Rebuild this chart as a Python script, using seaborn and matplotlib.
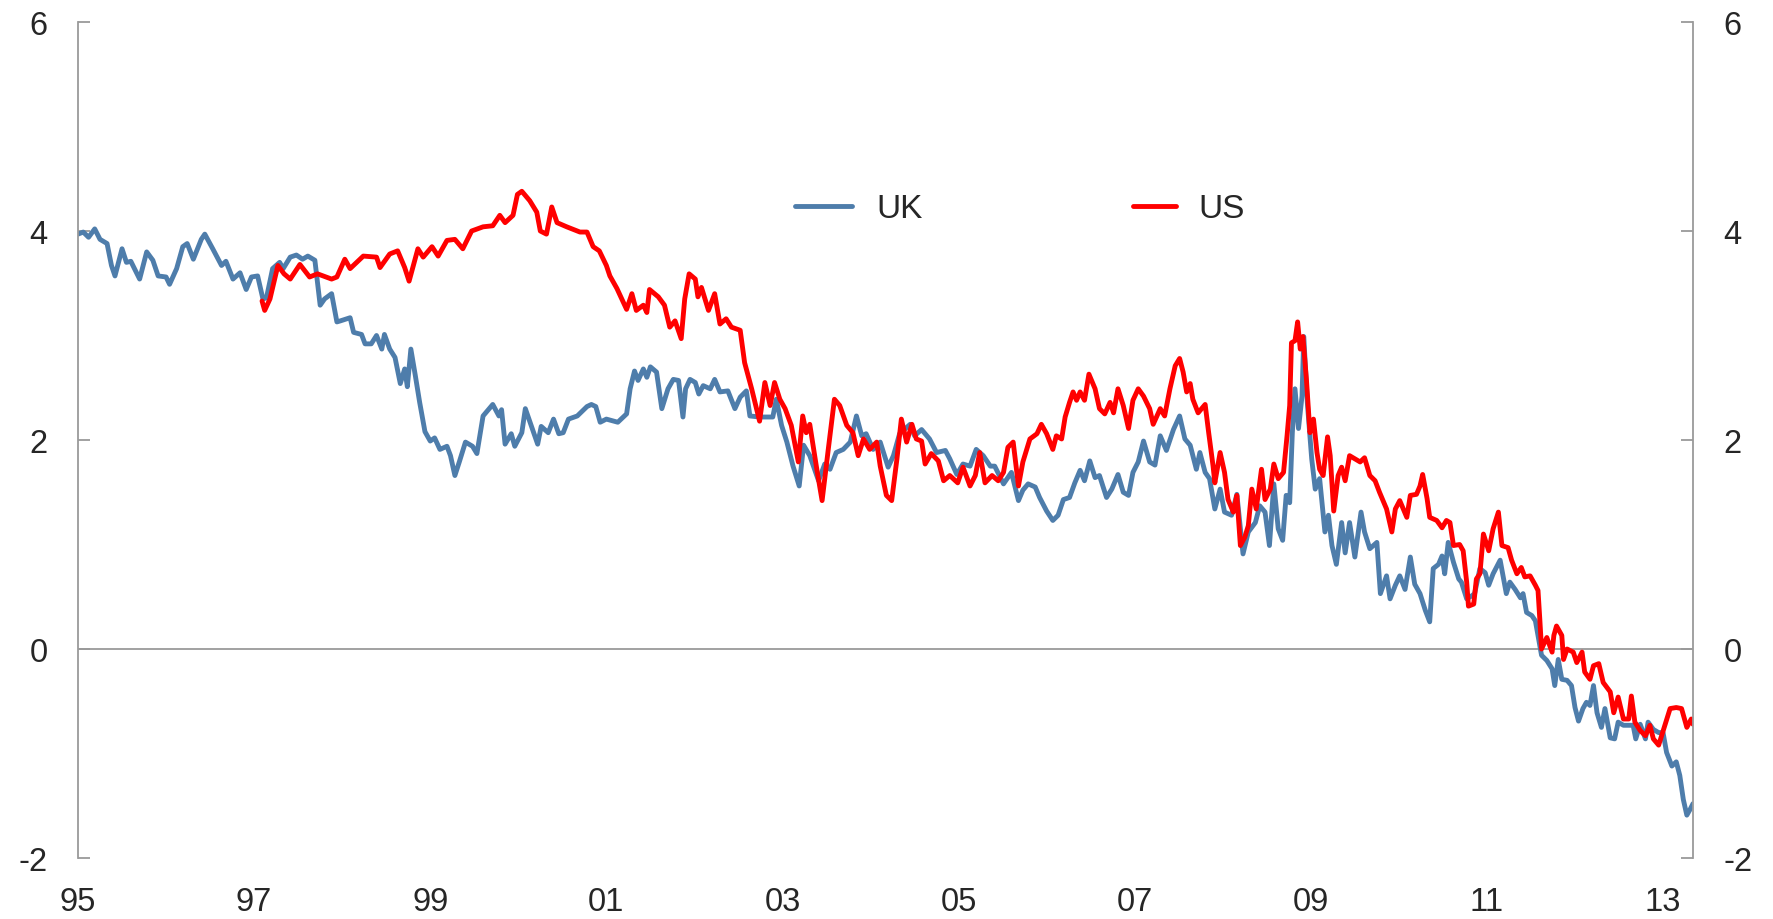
import numpy as np
import pandas as pd
import seaborn as sns
import matplotlib
matplotlib.use("Agg")
import matplotlib.pyplot as plt

# values (decimal year, percent)
uk_year = [
    1995.00, 1995.06, 1995.12, 1995.19, 1995.25, 1995.33, 1995.38, 1995.42, 1995.50, 1995.55,
    1995.60, 1995.70, 1995.78, 1995.85, 1995.91, 1996.00, 1996.04, 1996.12, 1996.19, 1996.24,
    1996.31, 1996.40, 1996.44, 1996.53, 1996.63, 1996.68, 1996.76, 1996.84, 1996.91, 1996.97,
    1997.04, 1997.10, 1997.14, 1997.21, 1997.29, 1997.33, 1997.41, 1997.48, 1997.55, 1997.61,
    1997.69, 1997.75, 1997.80, 1997.88, 1997.94, 1997.98, 1998.09, 1998.13, 1998.22, 1998.26,
    1998.33, 1998.39, 1998.45, 1998.48, 1998.54, 1998.60, 1998.66, 1998.71, 1998.74, 1998.78,
    1998.83, 1998.88, 1998.94, 1999.00, 1999.05, 1999.11, 1999.19, 1999.23, 1999.28, 1999.33,
    1999.40, 1999.48, 1999.53, 1999.60, 1999.71, 1999.78, 1999.81, 1999.85, 1999.92, 1999.96,
    2000.04, 2000.08, 2000.15, 2000.22, 2000.26, 2000.34, 2000.40, 2000.46, 2000.51, 2000.57,
    2000.67, 2000.78, 2000.83, 2000.88, 2000.93, 2001.00, 2001.13, 2001.23, 2001.27, 2001.32,
    2001.36, 2001.42, 2001.46, 2001.50, 2001.57, 2001.63, 2001.70, 2001.76, 2001.82, 2001.87,
    2001.90, 2001.95, 2002.01, 2002.05, 2002.10, 2002.18, 2002.23, 2002.29, 2002.38, 2002.46,
    2002.52, 2002.59, 2002.63, 2002.74, 2002.89, 2002.93, 2002.99, 2003.05, 2003.12, 2003.19,
    2003.24, 2003.31, 2003.41, 2003.48, 2003.54, 2003.61, 2003.69, 2003.77, 2003.84, 2003.90,
    2003.95, 2004.03, 2004.11, 2004.20, 2004.26, 2004.33, 2004.45, 2004.50, 2004.58, 2004.67,
    2004.75, 2004.85, 2004.90, 2004.98, 2005.05, 2005.13, 2005.20, 2005.28, 2005.36, 2005.41,
    2005.51, 2005.60, 2005.68, 2005.73, 2005.79, 2005.87, 2005.92, 2006.00, 2006.07, 2006.13,
    2006.19, 2006.26, 2006.32, 2006.38, 2006.43, 2006.49, 2006.55, 2006.60, 2006.68, 2006.74,
    2006.81, 2006.87, 2006.93, 2006.98, 2007.04, 2007.10, 2007.17, 2007.23, 2007.29, 2007.36,
    2007.44, 2007.51, 2007.57, 2007.63, 2007.70, 2007.74, 2007.80, 2007.85, 2007.91, 2007.97,
    2008.02, 2008.10, 2008.16, 2008.23, 2008.29, 2008.37, 2008.42, 2008.48, 2008.53, 2008.58,
    2008.63, 2008.68, 2008.72, 2008.76, 2008.79, 2008.82, 2008.86, 2008.90, 2008.92, 2008.96,
    2009.01, 2009.05, 2009.10, 2009.16, 2009.20, 2009.24, 2009.29, 2009.35, 2009.39, 2009.44,
    2009.50, 2009.57, 2009.61, 2009.67, 2009.75, 2009.79, 2009.86, 2009.90, 2009.96, 2010.01,
    2010.07, 2010.13, 2010.18, 2010.24, 2010.30, 2010.35, 2010.39, 2010.45, 2010.49, 2010.52,
    2010.56, 2010.62, 2010.68, 2010.71, 2010.77, 2010.83, 2010.86, 2010.92, 2010.98, 2011.02,
    2011.07, 2011.15, 2011.19, 2011.22, 2011.26, 2011.32, 2011.38, 2011.41, 2011.45, 2011.51,
    2011.55, 2011.58, 2011.62, 2011.68, 2011.74, 2011.77, 2011.81, 2011.85, 2011.91, 2011.96,
    2012.00, 2012.04, 2012.09, 2012.13, 2012.17, 2012.21, 2012.25, 2012.30, 2012.34, 2012.40,
    2012.45, 2012.49, 2012.55, 2012.61, 2012.66, 2012.69, 2012.74, 2012.80, 2012.83, 2012.89,
    2012.95, 2013.00, 2013.04, 2013.10, 2013.15, 2013.19, 2013.23, 2013.27, 2013.31, 2013.34,
]
uk_value = [
    3.97, 3.99, 3.94, 4.02, 3.92, 3.88, 3.67, 3.57, 3.83, 3.70,
    3.71, 3.54, 3.80, 3.72, 3.57, 3.56, 3.49, 3.64, 3.85, 3.88,
    3.73, 3.92, 3.97, 3.83, 3.67, 3.71, 3.54, 3.60, 3.44, 3.56,
    3.57, 3.35, 3.36, 3.64, 3.70, 3.64, 3.75, 3.77, 3.73, 3.76,
    3.72, 3.29, 3.35, 3.40, 3.13, 3.14, 3.17, 3.03, 3.01, 2.92,
    2.92, 3.00, 2.87, 3.01, 2.87, 2.79, 2.54, 2.68, 2.51, 2.87,
    2.62, 2.36, 2.08, 1.99, 2.02, 1.91, 1.94, 1.85, 1.66, 1.79,
    1.98, 1.94, 1.87, 2.23, 2.34, 2.23, 2.29, 1.96, 2.06, 1.94,
    2.07, 2.30, 2.13, 1.96, 2.13, 2.07, 2.20, 2.06, 2.07, 2.20,
    2.23, 2.32, 2.34, 2.32, 2.17, 2.20, 2.17, 2.25, 2.49, 2.66,
    2.57, 2.68, 2.60, 2.70, 2.65, 2.30, 2.49, 2.58, 2.57, 2.22,
    2.49, 2.58, 2.55, 2.44, 2.52, 2.49, 2.58, 2.46, 2.47, 2.30,
    2.41, 2.47, 2.23, 2.22, 2.22, 2.39, 2.14, 1.98, 1.75, 1.56,
    1.95, 1.85, 1.61, 1.77, 1.72, 1.88, 1.91, 1.98, 2.23, 2.04,
    2.06, 1.91, 1.98, 1.74, 1.85, 2.06, 2.15, 2.04, 2.10, 2.01,
    1.88, 1.90, 1.82, 1.67, 1.77, 1.75, 1.91, 1.85, 1.75, 1.75,
    1.58, 1.69, 1.42, 1.52, 1.58, 1.55, 1.45, 1.32, 1.23, 1.28,
    1.43, 1.45, 1.59, 1.71, 1.61, 1.80, 1.64, 1.66, 1.45, 1.53,
    1.67, 1.50, 1.47, 1.69, 1.79, 1.99, 1.79, 1.76, 2.04, 1.90,
    2.10, 2.23, 2.01, 1.95, 1.72, 1.88, 1.69, 1.63, 1.34, 1.53,
    1.31, 1.28, 1.48, 0.91, 1.12, 1.21, 1.37, 1.31, 0.99, 1.58,
    1.15, 1.04, 1.47, 1.40, 2.07, 2.49, 2.11, 2.42, 2.99, 2.36,
    1.82, 1.53, 1.63, 1.12, 1.28, 0.99, 0.81, 1.21, 0.92, 1.21,
    0.88, 1.31, 1.12, 0.96, 1.02, 0.53, 0.70, 0.48, 0.61, 0.70,
    0.57, 0.88, 0.62, 0.53, 0.37, 0.26, 0.77, 0.81, 0.89, 0.72,
    1.02, 0.83, 0.67, 0.64, 0.48, 0.51, 0.53, 0.77, 0.73, 0.61,
    0.72, 0.85, 0.67, 0.53, 0.64, 0.57, 0.49, 0.53, 0.35, 0.32,
    0.27, 0.13, -0.06, -0.11, -0.19, -0.35, -0.10, -0.29, -0.30, -0.35,
    -0.56, -0.69, -0.57, -0.51, -0.54, -0.35, -0.61, -0.75, -0.57, -0.85,
    -0.86, -0.70, -0.73, -0.73, -0.73, -0.86, -0.72, -0.86, -0.70, -0.77,
    -0.80, -0.80, -0.99, -1.12, -1.08, -1.21, -1.44, -1.59, -1.53, -1.48,
]

us_year = [
    1997.09, 1997.12, 1997.18, 1997.27, 1997.34, 1997.41, 1997.52, 1997.63, 1997.72, 1997.88,
    1997.94, 1998.03, 1998.09, 1998.24, 1998.39, 1998.43, 1998.54, 1998.63, 1998.71, 1998.76,
    1998.86, 1998.92, 1999.02, 1999.09, 1999.19, 1999.28, 1999.37, 1999.47, 1999.60, 1999.71,
    1999.79, 1999.85, 1999.94, 1999.99, 2000.04, 2000.13, 2000.21, 2000.25, 2000.32, 2000.38,
    2000.44, 2000.55, 2000.70, 2000.78, 2000.85, 2000.92, 2001.00, 2001.04, 2001.12, 2001.23,
    2001.29, 2001.34, 2001.42, 2001.46, 2001.49, 2001.59, 2001.66, 2001.72, 2001.78, 2001.85,
    2001.89, 2001.94, 2002.01, 2002.04, 2002.08, 2002.16, 2002.23, 2002.29, 2002.36, 2002.42,
    2002.52, 2002.57, 2002.65, 2002.74, 2002.80, 2002.86, 2002.91, 2002.97, 2003.03, 2003.10,
    2003.18, 2003.23, 2003.27, 2003.31, 2003.39, 2003.45, 2003.52, 2003.59, 2003.65, 2003.73,
    2003.80, 2003.86, 2003.92, 2003.99, 2004.07, 2004.11, 2004.18, 2004.24, 2004.30, 2004.35,
    2004.41, 2004.47, 2004.52, 2004.58, 2004.62, 2004.69, 2004.77, 2004.83, 2004.90, 2004.99,
    2005.05, 2005.13, 2005.19, 2005.24, 2005.30, 2005.38, 2005.45, 2005.51, 2005.56, 2005.62,
    2005.68, 2005.73, 2005.81, 2005.89, 2005.94, 2006.00, 2006.07, 2006.11, 2006.17, 2006.21,
    2006.26, 2006.30, 2006.34, 2006.38, 2006.43, 2006.48, 2006.55, 2006.60, 2006.66, 2006.72,
    2006.76, 2006.81, 2006.87, 2006.93, 2006.98, 2007.04, 2007.10, 2007.17, 2007.21, 2007.29,
    2007.34, 2007.40, 2007.46, 2007.51, 2007.55, 2007.59, 2007.63, 2007.66, 2007.72, 2007.80,
    2007.84, 2007.89, 2007.91, 2007.97, 2008.02, 2008.06, 2008.12, 2008.16, 2008.20, 2008.25,
    2008.29, 2008.33, 2008.38, 2008.44, 2008.48, 2008.54, 2008.58, 2008.63, 2008.69, 2008.73,
    2008.76, 2008.78, 2008.82, 2008.85, 2008.88, 2008.91, 2008.95, 2008.99, 2009.03, 2009.07,
    2009.10, 2009.14, 2009.19, 2009.22, 2009.26, 2009.31, 2009.35, 2009.39, 2009.44, 2009.50,
    2009.56, 2009.61, 2009.67, 2009.73, 2009.78, 2009.86, 2009.92, 2009.96, 2010.01, 2010.09,
    2010.13, 2010.20, 2010.24, 2010.27, 2010.32, 2010.35, 2010.43, 2010.49, 2010.54, 2010.58,
    2010.62, 2010.69, 2010.73, 2010.77, 2010.79, 2010.85, 2010.88, 2010.92, 2010.96, 2011.02,
    2011.07, 2011.13, 2011.17, 2011.24, 2011.28, 2011.34, 2011.39, 2011.43, 2011.49, 2011.55,
    2011.58, 2011.60, 2011.62, 2011.68, 2011.74, 2011.76, 2011.79, 2011.85, 2011.87, 2011.91,
    2011.98, 2012.02, 2012.08, 2012.11, 2012.17, 2012.21, 2012.27, 2012.32, 2012.40, 2012.44,
    2012.49, 2012.55, 2012.61, 2012.64, 2012.68, 2012.74, 2012.80, 2012.85, 2012.89, 2012.95,
    2013.02, 2013.08, 2013.15, 2013.21, 2013.27, 2013.32, 2013.34,
]
us_value = [
    3.33, 3.24, 3.35, 3.67, 3.59, 3.54, 3.68, 3.56, 3.59, 3.54,
    3.56, 3.73, 3.64, 3.76, 3.75, 3.65, 3.78, 3.81, 3.65, 3.52,
    3.83, 3.75, 3.85, 3.76, 3.91, 3.92, 3.83, 4.00, 4.04, 4.05,
    4.15, 4.08, 4.15, 4.35, 4.38, 4.29, 4.18, 4.00, 3.97, 4.23,
    4.08, 4.04, 3.99, 3.99, 3.85, 3.81, 3.67, 3.57, 3.45, 3.25,
    3.40, 3.24, 3.29, 3.22, 3.44, 3.37, 3.29, 3.08, 3.14, 2.97,
    3.35, 3.59, 3.54, 3.37, 3.46, 3.24, 3.40, 3.11, 3.16, 3.08,
    3.05, 2.74, 2.49, 2.18, 2.55, 2.33, 2.55, 2.39, 2.30, 2.14,
    1.79, 2.23, 2.07, 2.15, 1.72, 1.42, 1.91, 2.39, 2.33, 2.14,
    2.07, 1.85, 2.01, 1.91, 1.98, 1.75, 1.47, 1.42, 1.82, 2.20,
    1.98, 2.15, 2.01, 1.99, 1.77, 1.87, 1.80, 1.61, 1.66, 1.59,
    1.74, 1.56, 1.66, 1.88, 1.59, 1.66, 1.61, 1.69, 1.93, 1.98,
    1.56, 1.79, 2.01, 2.06, 2.15, 2.06, 1.91, 2.04, 2.01, 2.22,
    2.36, 2.46, 2.38, 2.46, 2.38, 2.63, 2.49, 2.30, 2.25, 2.36,
    2.26, 2.49, 2.33, 2.11, 2.38, 2.49, 2.42, 2.30, 2.15, 2.30,
    2.23, 2.49, 2.71, 2.78, 2.65, 2.46, 2.54, 2.39, 2.26, 2.34,
    2.07, 1.75, 1.59, 1.88, 1.69, 1.43, 1.31, 1.47, 0.99, 1.07,
    1.18, 1.53, 1.34, 1.72, 1.43, 1.53, 1.77, 1.63, 1.69, 2.04,
    2.33, 2.93, 2.95, 3.13, 2.87, 2.99, 2.58, 2.07, 2.20, 1.88,
    1.72, 1.66, 2.03, 1.85, 1.32, 1.66, 1.74, 1.61, 1.85, 1.82,
    1.79, 1.83, 1.66, 1.61, 1.50, 1.34, 1.12, 1.34, 1.42, 1.26,
    1.47, 1.48, 1.56, 1.67, 1.44, 1.26, 1.23, 1.16, 1.23, 1.21,
    0.99, 1.00, 0.94, 0.64, 0.41, 0.43, 0.67, 0.72, 1.10, 0.94,
    1.15, 1.31, 0.99, 0.97, 0.85, 0.72, 0.78, 0.69, 0.70, 0.61,
    0.56, 0.29, 0.00, 0.11, -0.03, 0.13, 0.22, 0.13, -0.10, 0.00,
    -0.03, -0.13, -0.03, -0.22, -0.29, -0.16, -0.14, -0.32, -0.41, -0.61,
    -0.46, -0.67, -0.67, -0.45, -0.70, -0.78, -0.83, -0.73, -0.86, -0.92,
    -0.73, -0.57, -0.56, -0.57, -0.75, -0.67, -0.72,
]

x_ticks = [1995, 1997, 1999, 2001, 2003, 2005, 2007, 2009, 2011, 2013]
x_labels = ['95', '97', '99', '01', '03', '05', '07', '09', '11', '13']
y_ticks = [-2, 0, 2, 4, 6]

uk_color = '#4E7DAB'
us_color = '#FF0000'
axis_grey = '#9A9A9A'
lw = 3.5

sns.set_style('white')
plt.rcParams['font.family'] = ['Liberation Sans', 'DejaVu Sans']

fig = plt.figure(figsize=(17.74, 9.2), dpi=100)
ax = fig.add_axes([78 / 1774, 1 - 859 / 920, (1693 - 78) / 1774, (859 - 23) / 920])

uk = pd.DataFrame({'year': uk_year, 'value': uk_value})
us = pd.DataFrame({'year': us_year, 'value': us_value})

sns.lineplot(data=uk, x='year', y='value', color=uk_color, linewidth=lw,
             ax=ax, sort=False, estimator=None)
sns.lineplot(data=us, x='year', y='value', color=us_color, linewidth=lw,
             ax=ax, sort=False, estimator=None)
uk_line, us_line = ax.get_lines()[0], ax.get_lines()[1]

ax.axhline(0, color=axis_grey, linewidth=1.3, zorder=1)

ax.set_xlim(1995, 2013.34)
ax.set_ylim(-2, 6)
ax.set_xticks(x_ticks)
ax.set_xticklabels(x_labels)
ax.set_yticks(y_ticks)
ax.set_yticklabels([str(t) for t in y_ticks])
ax.set_xlabel('')
ax.set_ylabel('')

for side in ['top', 'bottom']:
    ax.spines[side].set_visible(False)
for side in ['left', 'right']:
    ax.spines[side].set_visible(True)
    ax.spines[side].set_color(axis_grey)
    ax.spines[side].set_linewidth(1.3)

ax.tick_params(axis='y', which='both', direction='in', length=8.5, width=1.3,
               color=axis_grey, left=True, right=True, labelleft=True,
               labelright=True, labelsize=23.5, pad=22)
ax.tick_params(axis='x', bottom=False, labelsize=23.5, pad=17)

# two separate legend entries, the US handle is shorter in the original
leg_uk = ax.legend([uk_line], ['UK'], loc='center left',
                   bbox_to_anchor=(795 / 1774, 1 - 210 / 920),
                   bbox_transform=fig.transFigure, frameon=False,
                   fontsize=24, handlelength=1.7, handletextpad=0.75,
                   borderpad=0, borderaxespad=0)
ax.add_artist(leg_uk)
leg_us = ax.legend([us_line], ['US'], loc='center left',
                   bbox_to_anchor=(1133 / 1774, 1 - 210 / 920),
                   bbox_transform=fig.transFigure, frameon=False,
                   fontsize=24, handlelength=1.3, handletextpad=0.65,
                   borderpad=0, borderaxespad=0)
for leg in (leg_uk, leg_us):
    for line in leg.get_lines():
        line.set_linewidth(lw)

fig.savefig('out.png', dpi=100, facecolor='white')
